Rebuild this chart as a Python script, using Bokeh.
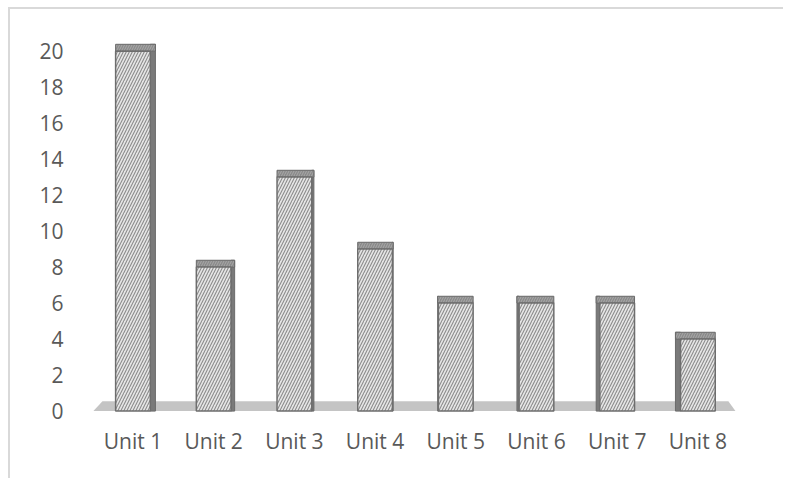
from bokeh.plotting import figure
from bokeh.models import Range1d, FixedTicker, SingleIntervalTicker, ColumnDataSource
from bokeh.embed import file_html
from bokeh.resources import INLINE

categories = ["Unit 1", "Unit 2", "Unit 3", "Unit 4", "Unit 5", "Unit 6", "Unit 7", "Unit 8"]
values = [20, 8, 13, 9, 6, 6, 6, 4]
y_ticks_interval = 2

n = len(categories)
idx = list(range(n))
half_w = 0.215
cap = 0.38
mid = (n - 1) / 2.0

front_l = [i - half_w for i in idx]
front_r = [i + half_w for i in idx]
# 3D side depth depends on distance from the centre
depth = [(mid - i) * 0.018 for i in idx]
side_l = [front_r[i] if depth[i] > 0 else front_l[i] + depth[i] for i in idx]
side_r = [front_r[i] + depth[i] if depth[i] > 0 else front_l[i] for i in idx]
cap_l = [min(front_l[i], side_l[i]) for i in idx]
cap_r = [max(front_r[i], side_r[i]) for i in idx]
tops = [v + cap for v in values]

src = ColumnDataSource(dict(x=idx, v=values, fl=front_l, fr=front_r, sl=side_l, sr=side_r,
                            cl=cap_l, cr=cap_r, top=tops, zero=[0] * n))

p = figure(width=775, height=471, output_backend="svg", toolbar_location=None,
           x_range=Range1d(-0.551, 7.528), y_range=Range1d(-0.3, 21.48),
           min_border_left=78, min_border_right=45, min_border_top=15, min_border_bottom=64)
p.styles = {"margin-left": "8px", "margin-top": "7px",
            "border-left": "2px solid #d9d9d9", "border-top": "2px solid #d9d9d9"}
p.outline_line_color = None
p.background_fill_color = "white"
p.border_fill_color = "white"
p.xgrid.grid_line_color = None
p.ygrid.grid_line_color = None

# floor
fl0, fr0 = -0.49, (n - 1) + 0.465
p.patch([fl0, -0.378, (n - 1) + 0.378, fr0], [0, 0.55, 0.55, 0],
        fill_color="#c4c4c4", line_color=None)

# side faces
p.quad(left="sl", right="sr", bottom="zero", top="top", source=src,
       fill_color="#7a7a7a", line_color="#6a6a6a", line_width=1)
# top caps
p.quad(left="cl", right="cr", bottom="v", top="top", source=src,
       fill_color="#8a8a8a", line_color="#6a6a6a", line_width=1,
       hatch_pattern="/", hatch_color="#a8a8a8", hatch_scale=5, hatch_weight=1)
# front faces
p.quad(left="fl", right="fr", bottom="zero", top="v", source=src,
       fill_color="#e6e6e6", line_color="#6e6e6e", line_width=1.5,
       hatch_pattern="/", hatch_color="#8c8c8c", hatch_scale=6, hatch_weight=1.1)

p.xaxis.ticker = FixedTicker(ticks=idx)
p.xaxis.major_label_overrides = {i: c for i, c in zip(idx, categories)}
p.yaxis.ticker = SingleIntervalTicker(interval=y_ticks_interval)

for ax in (p.xaxis[0], p.yaxis[0]):
    ax.axis_line_color = None
    ax.major_tick_line_color = None
    ax.minor_tick_line_color = None
    ax.major_label_text_font = "Open Sans"
    ax.major_label_text_font_size = "21px"
    ax.major_label_text_color = "#595959"
p.xaxis.major_label_standoff = 4
p.yaxis.major_label_standoff = 19

open("out.html", "w").write(file_html(p, INLINE))
